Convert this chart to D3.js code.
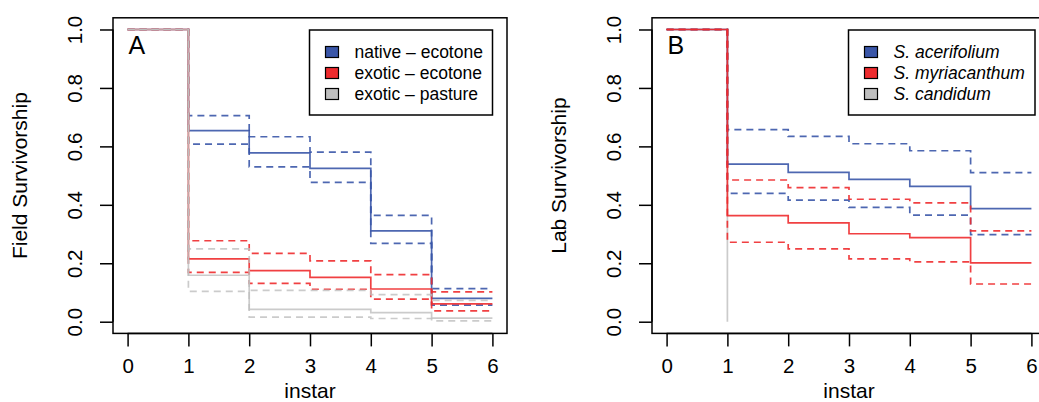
<!DOCTYPE html>
<html><head><meta charset="utf-8">
<script src="https://cdn.jsdelivr.net/npm/d3@7"></script>
<style>
html,body{margin:0;padding:0;background:#fff;}
svg text{font-family:"Liberation Sans",Arial,Helvetica,sans-serif;fill:#000;}
</style></head>
<body><svg id="c" width="1039" height="402"></svg>
<script>
// ---- data ----
const xTicks = [0, 1, 2, 3, 4, 5, 6];
const yTicks = [0, 0.2, 0.4, 0.6, 0.8, 1.0];

// Panel A: field survivorship by instar interval (instar 0..5 start)
const nativeEcotone    = [1, 0.654, 0.578, 0.525, 0.311, 0.080];
const nativeEcotoneHi  = [1, 0.705, 0.633, 0.580, 0.364, 0.113];
const nativeEcotoneLo  = [1, 0.608, 0.530, 0.477, 0.268, 0.057];
const exoticEcotone    = [1, 0.215, 0.175, 0.152, 0.112, 0.061];
const exoticEcotoneHi  = [1, 0.277, 0.234, 0.208, 0.161, 0.102];
const exoticEcotoneLo  = [1, 0.169, 0.131, 0.111, 0.077, 0.037];
const exoticPasture    = [1, 0.159, 0.042, 0.042, 0.031, 0.012];
const exoticPastureHi  = [1, 0.249, 0.107, 0.107, 0.093, 0.073];
const exoticPastureLo  = [1, 0.104, 0.016, 0.016, 0.011, 0.003];

// Panel B: lab survivorship
const acerifolium      = [1, 0.539, 0.511, 0.487, 0.463, 0.387];
const acerifoliumHi    = [1, 0.657, 0.634, 0.609, 0.585, 0.510];
const acerifoliumLo    = [1, 0.439, 0.416, 0.391, 0.365, 0.298];
const myriacanthum     = [1, 0.363, 0.338, 0.301, 0.288, 0.201];
const myriacanthumHi   = [1, 0.485, 0.459, 0.419, 0.407, 0.311];
const myriacanthumLo   = [1, 0.272, 0.249, 0.215, 0.205, 0.129];
const candidum         = [1, 0];   // all died at instar 1

const legendA = ["native \u2013 ecotone", "exotic \u2013 ecotone", "exotic \u2013 pasture"];
const legendB = ["S. acerifolium", "S. myriacanthum", "S. candidum"];

const BLUE = "#3A56A8", RED = "#EE2B2E", GRAY = "#BEBEBE";
const FS_TICK = 20.5, FS_TITLE = 21;

const svg = d3.select("#c");

function stepPoints(vals) {
  const pts = vals.map((v, i) => [i, v]);
  if (vals.length === 6) pts.push([6, vals[5]]);
  return pts;
}

function panel(opt) {
  const x = d3.scaleLinear().domain([-0.24, 6.24]).range([opt.left, opt.left + 394]);
  const y = d3.scaleLinear().domain([-0.04, 1.04]).range([333.4, 17.8]);
  const g = svg.append("g");

  const clipId = "clip" + opt.label;
  svg.append("clipPath").attr("id", clipId).append("rect")
    .attr("x", x.range()[0]).attr("y", y.range()[1])
    .attr("width", x.range()[1] - x.range()[0]).attr("height", y.range()[0] - y.range()[1]);

  const line = d3.line().x(d => x(d[0])).y(d => y(d[1])).curve(d3.curveStepAfter);
  const lines = g.append("g").attr("clip-path", `url(#${clipId})`);
  opt.series.forEach(s => {
    lines.append("path").datum(stepPoints(s.vals))
      .attr("d", line).attr("fill", "none")
      .attr("stroke", s.color).attr("stroke-width", 1.7)
      .attr("stroke-opacity", s.color === GRAY ? 0.8 : 0.9)
      .attr("stroke-dasharray", s.dash ? "7,5" : null);
  });

  // box
  g.append("rect").attr("x", x.range()[0]).attr("y", y.range()[1])
    .attr("width", x.range()[1] - x.range()[0]).attr("height", y.range()[0] - y.range()[1])
    .attr("fill", "none").attr("stroke", "#000").attr("stroke-width", 1.5);

  // axes
  const xa = g.append("g").attr("transform", `translate(0,${y.range()[0]})`)
    .call(d3.axisBottom(x).tickValues(xTicks).tickSize(13).tickPadding(12).tickFormat(d3.format("d")));
  xa.select(".domain").attr("d", `M${x(0)},0H${x(6)}`).attr("stroke-width", 1.5);
  xa.selectAll(".tick line").attr("stroke-width", 1.5);
  xa.selectAll("text").style("font-size", FS_TICK + "px").attr("fill", "#000");

  const ya = g.append("g").attr("transform", `translate(${x.range()[0]},0)`)
    .call(d3.axisLeft(y).tickValues(yTicks).tickSize(13).tickFormat(d3.format(".1f")));
  ya.select(".domain").attr("d", `M0,${y(0)}V${y(1)}`).attr("stroke-width", 1.5);
  ya.selectAll(".tick line").attr("stroke-width", 1.5);
  ya.selectAll(".tick text")
    .attr("x", null).attr("dy", null)
    .attr("text-anchor", "middle")
    .attr("transform", "translate(-31,0) rotate(-90)")
    .style("font-size", FS_TICK + "px").attr("fill", "#000");

  // titles
  const cx = (x.range()[0] + x.range()[1]) / 2;
  const cy = (y.range()[0] + y.range()[1]) / 2;
  g.append("text").attr("x", cx).attr("y", 398).attr("text-anchor", "middle")
    .style("font-size", FS_TITLE + "px").text("instar");
  g.append("text").attr("transform", `translate(${x.range()[0] - 86},${cy}) rotate(-90)`)
    .attr("text-anchor", "middle").style("font-size", FS_TITLE + "px").text(opt.ylab);

  // panel letter
  g.append("text").attr("x", x(0) + 1).attr("y", 53.5).style("font-size", "25px").text(opt.label);

  // legend
  const lw = opt.legendW, lr = opt.legendRight;
  const lg = g.append("g");
  lg.append("rect").attr("x", lr - lw).attr("y", 30).attr("width", lw).attr("height", 85)
    .attr("fill", "#fff").attr("stroke", "#000").attr("stroke-width", 1.5);
  opt.legend.forEach((t, i) => {
    const yy = 52 + i * 21;
    lg.append("rect").attr("x", lr - lw + 16).attr("y", yy - 5.5).attr("width", 13).attr("height", 11)
      .attr("fill", [BLUE, RED, GRAY][i]).attr("stroke", "#000").attr("stroke-width", 1.2);
    lg.append("text").attr("x", lr - lw + 45).attr("y", yy + 6)
      .style("font-size", "17.5px").style("font-style", opt.italic ? "italic" : "normal").text(t);
  });
}

panel({
  left: 113, label: "A", ylab: "Field Survivorship", legend: legendA, italic: false,
  legendRight: 492.5, legendW: 183,
  series: [
    {vals: nativeEcotoneHi, color: BLUE, dash: true},
    {vals: nativeEcotoneLo, color: BLUE, dash: true},
    {vals: nativeEcotone, color: BLUE},
    {vals: exoticEcotoneHi, color: RED, dash: true},
    {vals: exoticEcotoneLo, color: RED, dash: true},
    {vals: exoticEcotone, color: RED},
    {vals: exoticPastureHi, color: GRAY, dash: true},
    {vals: exoticPastureLo, color: GRAY, dash: true},
    {vals: exoticPasture, color: GRAY}
  ]
});

panel({
  left: 652, label: "B", ylab: "Lab Survivorship", legend: legendB, italic: true,
  legendRight: 1035, legendW: 186.5,
  series: [
    {vals: candidum, color: GRAY},
    {vals: acerifoliumHi, color: BLUE, dash: true},
    {vals: acerifoliumLo, color: BLUE, dash: true},
    {vals: acerifolium, color: BLUE},
    {vals: myriacanthumHi, color: RED, dash: true},
    {vals: myriacanthumLo, color: RED, dash: true},
    {vals: myriacanthum, color: RED}
  ]
});
</script></body></html>
